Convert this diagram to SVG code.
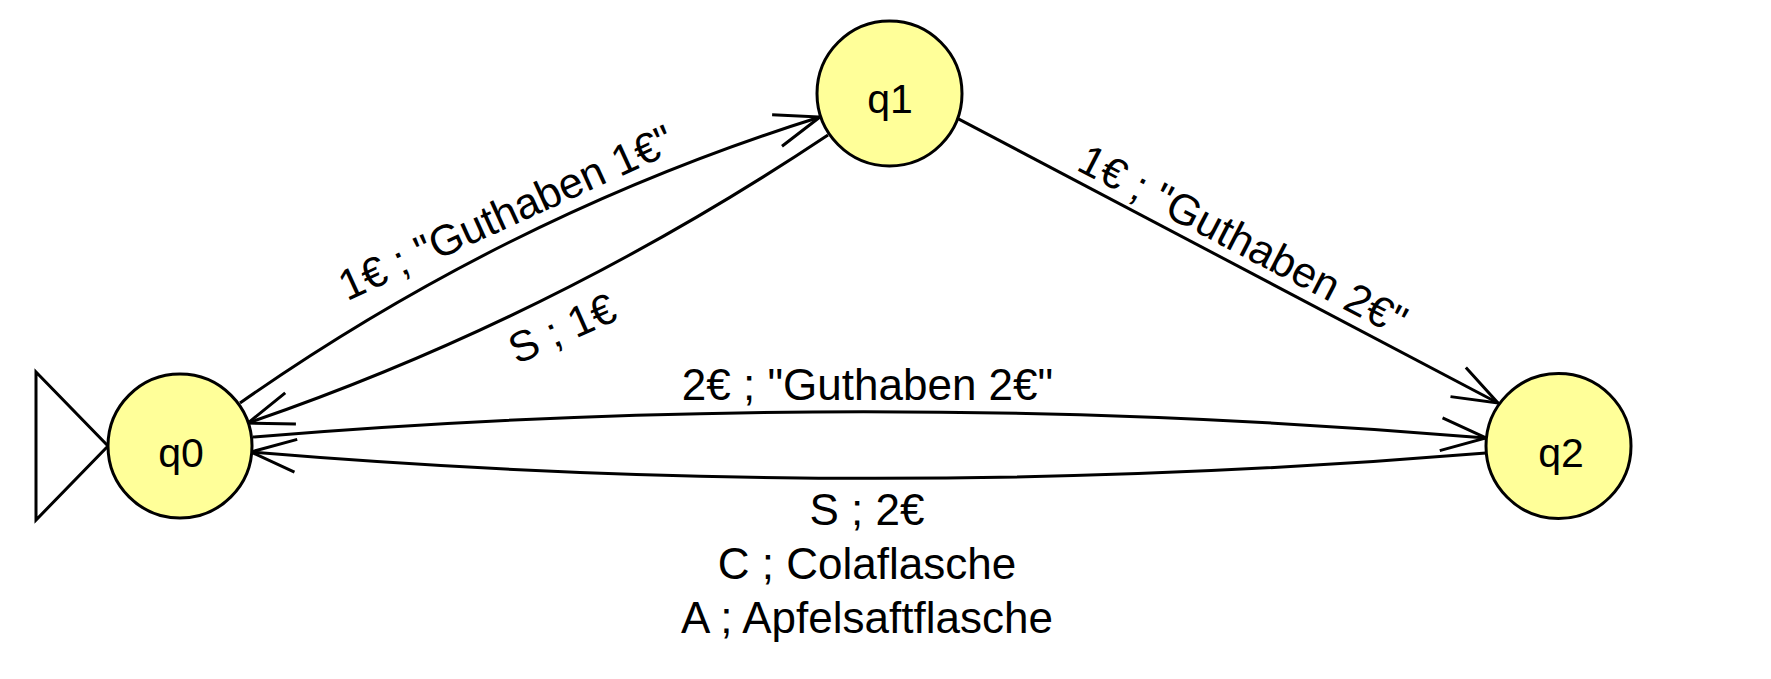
<svg xmlns="http://www.w3.org/2000/svg" width="1771" height="679" viewBox="0 0 1771 679">
  <style>
    .node { fill: #ffff99; stroke: #000; stroke-width: 3; }
    .edge { fill: none; stroke: #000; stroke-width: 3; marker-end: url(#arr); }
    .nlabel { font-family: "Liberation Sans", Arial, sans-serif; font-size: 41px; text-anchor: middle; fill: #000; }
    .elabel { font-family: "Liberation Sans", Arial, sans-serif; font-size: 44px; text-anchor: middle; fill: #000; }
    .rlabel { font-family: "Liberation Sans", Arial, sans-serif; font-size: 43px; text-anchor: middle; fill: #000; }
  </style>
  <defs>
    <marker id="arr" markerUnits="userSpaceOnUse" viewBox="-50 -20 60 40" markerWidth="60" markerHeight="40" refX="0" refY="0" orient="auto" overflow="visible">
      <path d="M-45,-16.5 L0,0 L-45,16.5" fill="none" stroke="#000" stroke-width="3"/>
    </marker>
  </defs>
  <rect x="0" y="0" width="1771" height="679" fill="#fff"/>

  <g id="connectors">
    <path id="e-q0-q1" class="edge" d="M240,403 Q509,214.4 820,117"/>
    <path id="e-q1-q0" class="edge" d="M828,135 Q552.6,318.7 248,423"/>
    <path id="e-q0-q2" class="edge" d="M253,437 Q870,386 1486,438"/>
    <path id="e-q2-q0" class="edge" d="M1486,453 Q870,504 251,452"/>
    <path id="e-q1-q2" class="edge" d="M957.4,118.4 L1498,403"/>
  </g>

  <g id="edge-labels">
    <text class="rlabel" transform="translate(512,226) rotate(-24.5)">1€ ; "Guthaben 1€"</text>
    <text class="rlabel" transform="translate(568,342) rotate(-24)">S ; 1€</text>
    <text class="rlabel" transform="translate(1236,253) rotate(27.5)">1€ ; "Guthaben 2€"</text>
    <text class="elabel" x="867.5" y="400">2€ ; "Guthaben 2€"</text>
    <text class="elabel" x="867" y="525">S ; 2€</text>
    <text class="elabel" x="867" y="579">C ; Colaflasche</text>
    <text class="elabel" x="867" y="633">A ; Apfelsaftflasche</text>
  </g>

  <g id="start">
    <polygon points="36,372 108,446 36,520" fill="#fff" stroke="#000" stroke-width="3"/>
  </g>
  <g id="q0">
    <circle class="node" cx="180" cy="446" r="72"/>
    <text class="nlabel" x="181" y="467">q0</text>
  </g>
  <g id="q1">
    <circle class="node" cx="889.5" cy="93.5" r="72.5"/>
    <text class="nlabel" x="890" y="113">q1</text>
  </g>
  <g id="q2">
    <circle class="node" cx="1558.5" cy="446" r="72.5"/>
    <text class="nlabel" x="1561" y="467">q2</text>
  </g>
</svg>
